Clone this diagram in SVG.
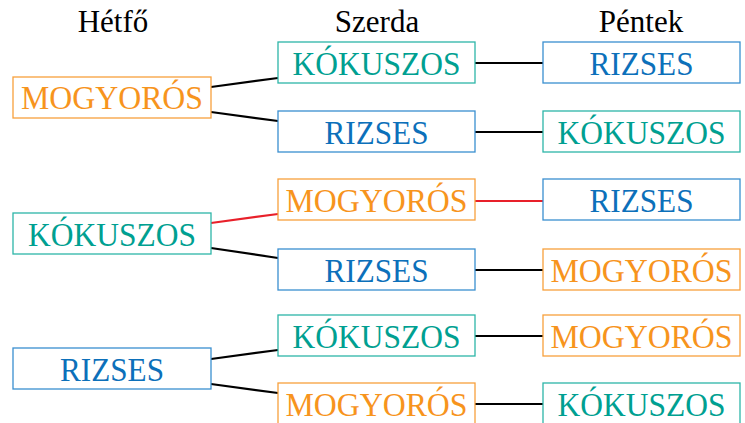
<svg xmlns="http://www.w3.org/2000/svg" width="745" height="423" viewBox="0 0 745 423">
<style>
text{font-family:"Liberation Serif","Times New Roman",serif;font-size:33px;text-anchor:middle}
.h{fill:#000;font-size:31px}
.b{fill:#fff;stroke-width:1.3}
.o rect{stroke:#F7A03C}.o text{fill:#F7941D}
.t rect{stroke:#2DB5A8}.t text{fill:#00A091}
.u rect{stroke:#3A8FD0}.u text{fill:#0C70BA}
.c line{stroke:#000;stroke-width:2.2}
.c line.r{stroke:#E8202A}
</style>
<rect width="745" height="423" fill="#fff"/>
<g id="headers">
<text class="h" x="113" y="32">Hétfő</text>
<text class="h" x="377" y="32">Szerda</text>
<text class="h" x="641" y="32">Péntek</text>
</g>
<g id="connectors" class="c">
<line x1="211" y1="87" x2="278" y2="78"/>
<line x1="211" y1="112" x2="278" y2="121"/>
<line x1="475" y1="63" x2="543" y2="63"/>
<line x1="475" y1="132" x2="543" y2="132"/>
<line class="r" x1="211" y1="223" x2="278" y2="214"/>
<line x1="211" y1="248" x2="278" y2="258"/>
<line class="r" x1="475" y1="201" x2="543" y2="201"/>
<line x1="475" y1="270" x2="543" y2="270"/>
<line x1="211" y1="359" x2="278" y2="350"/>
<line x1="211" y1="384" x2="278" y2="393"/>
<line x1="475" y1="336" x2="543" y2="336"/>
<line x1="475" y1="404" x2="543" y2="404"/>
</g>
<g id="n1" class="o"><rect class="b" x="13" y="77" width="198" height="41"/><text x="112" y="109" textLength="182" lengthAdjust="spacingAndGlyphs">MOGYORÓS</text></g>
<g id="n2" class="t"><rect class="b" x="278" y="42" width="197" height="41"/><text x="376.5" y="74.5" textLength="168" lengthAdjust="spacingAndGlyphs">KÓKUSZOS</text></g>
<g id="n3" class="u"><rect class="b" x="278" y="111" width="197" height="41"/><text x="376.5" y="143.5" textLength="104" lengthAdjust="spacingAndGlyphs">RIZSES</text></g>
<g id="n4" class="u"><rect class="b" x="543" y="42" width="197" height="41"/><text x="641.5" y="74.5" textLength="104" lengthAdjust="spacingAndGlyphs">RIZSES</text></g>
<g id="n5" class="t"><rect class="b" x="543" y="111" width="197" height="41"/><text x="641.5" y="143.5" textLength="168" lengthAdjust="spacingAndGlyphs">KÓKUSZOS</text></g>
<g id="n6" class="t"><rect class="b" x="13" y="213" width="198" height="41"/><text x="112" y="245.5" textLength="168" lengthAdjust="spacingAndGlyphs">KÓKUSZOS</text></g>
<g id="n7" class="o"><rect class="b" x="278" y="179" width="197" height="41"/><text x="376.5" y="211.5" textLength="182" lengthAdjust="spacingAndGlyphs">MOGYORÓS</text></g>
<g id="n8" class="u"><rect class="b" x="278" y="249" width="197" height="41"/><text x="376.5" y="281.5" textLength="104" lengthAdjust="spacingAndGlyphs">RIZSES</text></g>
<g id="n9" class="u"><rect class="b" x="543" y="179" width="197" height="41"/><text x="641.5" y="211.5" textLength="104" lengthAdjust="spacingAndGlyphs">RIZSES</text></g>
<g id="n10" class="o"><rect class="b" x="543" y="249" width="197" height="41"/><text x="641.5" y="281.5" textLength="182" lengthAdjust="spacingAndGlyphs">MOGYORÓS</text></g>
<g id="n11" class="u"><rect class="b" x="13" y="348" width="198" height="41"/><text x="112" y="380.5" textLength="104" lengthAdjust="spacingAndGlyphs">RIZSES</text></g>
<g id="n12" class="t"><rect class="b" x="278" y="315" width="197" height="41"/><text x="376.5" y="347.5" textLength="168" lengthAdjust="spacingAndGlyphs">KÓKUSZOS</text></g>
<g id="n13" class="o"><rect class="b" x="278" y="383" width="197" height="41"/><text x="376.5" y="415.5" textLength="182" lengthAdjust="spacingAndGlyphs">MOGYORÓS</text></g>
<g id="n14" class="o"><rect class="b" x="543" y="315" width="197" height="41"/><text x="641.5" y="347.5" textLength="182" lengthAdjust="spacingAndGlyphs">MOGYORÓS</text></g>
<g id="n15" class="t"><rect class="b" x="543" y="383" width="197" height="41"/><text x="641.5" y="415.5" textLength="168" lengthAdjust="spacingAndGlyphs">KÓKUSZOS</text></g>
</svg>
